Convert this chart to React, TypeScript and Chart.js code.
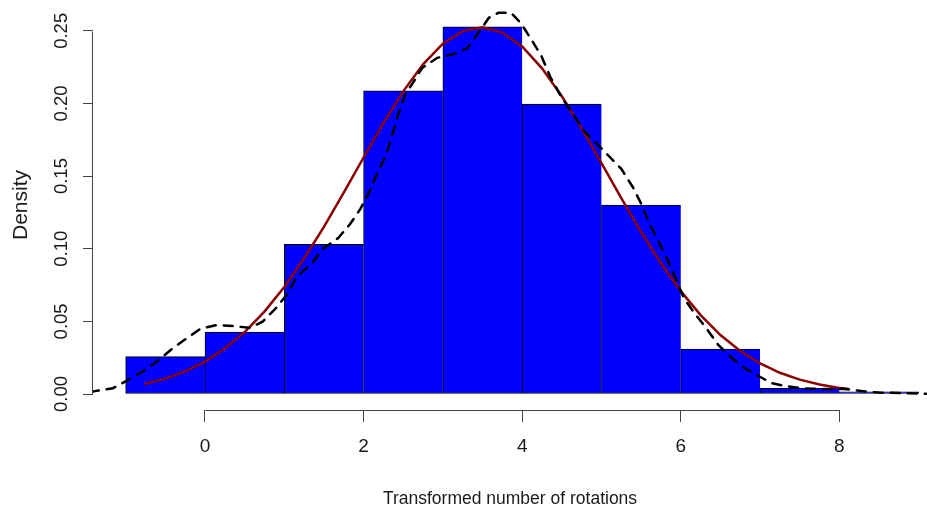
import { useEffect, useRef } from "react";
import { Chart, registerables } from "chart.js";

Chart.register(...registerables);

// Histogram bins (left edges, width 1) and densities
const binStarts = [-1, 0, 1, 2, 3, 4, 5, 6, 7, 8];
const binDensity = [0.0257, 0.0427, 0.103, 0.2087, 0.2528, 0.1996, 0.13, 0.031, 0.004, 0.0015];

// Fitted normal curve (dark red)
const normalX = [-0.77, -0.5, -0.25, 0, 0.25, 0.5, 0.75, 1, 1.25, 1.5, 1.75, 2, 2.25, 2.5, 2.75, 3, 3.25, 3.5, 3.75, 4, 4.25, 4.5, 4.75, 5, 5.25, 5.5, 5.75, 6, 6.25, 6.5, 6.75, 7, 7.25, 7.5, 7.75, 8, 8.12];
const normalY = [0.0068, 0.0106, 0.0156, 0.0223, 0.0313, 0.0426, 0.0567, 0.0737, 0.0933, 0.1151, 0.1387, 0.1628, 0.1865, 0.2083, 0.2269, 0.2411, 0.2498, 0.2525, 0.2488, 0.2392, 0.2242, 0.205, 0.1828, 0.159, 0.1348, 0.1115, 0.09, 0.0708, 0.0543, 0.0406, 0.0296, 0.0211, 0.0146, 0.0099, 0.0065, 0.0042, 0.0034];

// Kernel density estimate (black dashed)
const kdeX = [-1.45, -1.39, -1.16, -0.99, -0.8, -0.59, -0.44, -0.28, -0.06, 0.15, 0.35, 0.57, 0.73, 0.885, 1.04, 1.16, 1.35, 1.49, 1.68, 1.83, 1.96, 2.06, 2.17, 2.28, 2.36, 2.44, 2.53, 2.62, 2.74, 2.93, 3.14, 3.31, 3.48, 3.58, 3.7, 3.86, 3.98, 4.11, 4.24, 4.36, 4.5, 4.65, 4.78, 4.93, 5.09, 5.25, 5.4, 5.5, 5.6, 5.73, 5.84, 5.94, 6.04, 6.17, 6.32, 6.47, 6.64, 6.8, 6.98, 7.14, 7.31, 7.52, 7.77, 8.07, 8.28, 8.5, 9.0, 9.15];
const kdeY = [0.0012, 0.002, 0.004, 0.009, 0.015, 0.023, 0.03, 0.0365, 0.0448, 0.0475, 0.0468, 0.0455, 0.05, 0.0585, 0.0689, 0.081, 0.09, 0.1, 0.1074, 0.117, 0.1274, 0.1377, 0.1515, 0.164, 0.178, 0.193, 0.2066, 0.214, 0.2245, 0.2314, 0.234, 0.238, 0.251, 0.259, 0.2624, 0.2624, 0.2555, 0.2445, 0.233, 0.2176, 0.204, 0.192, 0.181, 0.173, 0.164, 0.155, 0.142, 0.131, 0.118, 0.104, 0.0916, 0.079, 0.066, 0.0558, 0.0455, 0.034, 0.025, 0.018, 0.0124, 0.0076, 0.0055, 0.004, 0.0035, 0.0035, 0.002, 0.001, 0.0003, 0.0002];

const xTickValues = [0, 2, 4, 6, 8];
const yTickValues = [0, 0.05, 0.1, 0.15, 0.2, 0.25];
const xAxisTitle = "Transformed number of rotations";
const yAxisTitle = "Density";

const AXIS_COLOR = "#444";
const TEXT_COLOR = "#1a1a1a";

const rAxesPlugin = {
  id: "rAxes",
  afterDraw(chart: any) {
    const { ctx, scales } = chart;
    const xs = scales.x;
    const ys = scales.y;
    ctx.save();
    ctx.strokeStyle = AXIS_COLOR;
    ctx.lineWidth = 1;
    ctx.beginPath();
    const yLineX = Math.round(ys.right) - 0.5;
    const yTop = Math.round(ys.getPixelForValue(yTickValues[yTickValues.length - 1])) + 0.5;
    const yBot = Math.round(ys.getPixelForValue(yTickValues[0])) + 0.5;
    ctx.moveTo(yLineX, yTop);
    ctx.lineTo(yLineX, yBot);
    const xLineY = Math.round(xs.top) + 0.5;
    const xL = Math.round(xs.getPixelForValue(xTickValues[0])) + 0.5;
    const xR = Math.round(xs.getPixelForValue(xTickValues[xTickValues.length - 1])) + 0.5;
    ctx.moveTo(xL, xLineY);
    ctx.lineTo(xR, xLineY);
    ctx.stroke();
    ctx.restore();
  },
};

export default function App() {
  const canvasRef = useRef<HTMLCanvasElement | null>(null);

  useEffect(() => {
    const canvas = canvasRef.current;
    if (!canvas) return;
    const barData = binStarts.map((s, i) => ({ x: s + 0.5, y: binDensity[i] }));
    const normalData = normalX.map((x, i) => ({ x, y: normalY[i] }));
    const kdeData = kdeX.map((x, i) => ({ x, y: kdeY[i] }));
    const lastBar = binStarts.length - 1;

    const chart = new Chart(canvas, {
      type: "bar",
      data: {
        datasets: [
          {
            type: "line",
            data: kdeData,
            borderColor: "#000000",
            borderWidth: 2.5,
            borderDash: [9, 8],
            borderCapStyle: "round",
            pointRadius: 0,
            tension: 0,
            fill: false,
            order: 0,
          } as any,
          {
            type: "line",
            data: normalData,
            borderColor: "#8B0000",
            borderWidth: 2.5,
            pointRadius: 0,
            tension: 0,
            fill: false,
            order: 1,
          } as any,
          {
            type: "bar",
            data: barData,
            backgroundColor: "#0000FF",
            borderColor: "#000000",
            borderWidth: (c: any) => ({ top: 1, bottom: 1, left: 1, right: c.dataIndex === lastBar ? 1 : 0 }),
            borderSkipped: false,
            barPercentage: 1,
            categoryPercentage: 1,
            order: 2,
          } as any,
        ],
      },
      options: {
        animation: false,
        responsive: true,
        maintainAspectRatio: false,
        layout: { padding: 0 },
        plugins: {
          legend: { display: false },
          tooltip: { enabled: false },
        },
        scales: {
          x: {
            type: "linear",
            offset: false,
            min: -1.412,
            max: 9.105,
            border: { display: false },
            grid: {
              offset: false,
              drawOnChartArea: false,
              drawTicks: true,
              tickLength: 12,
              color: AXIS_COLOR,
              lineWidth: 1,
            },
            afterBuildTicks: (s: any) => {
              s.ticks = xTickValues.map((v) => ({ value: v }));
            },
            afterFit: (s: any) => {
              s.height = 96;
              s.paddingLeft = 0;
              s.paddingRight = 0;
              s.paddingTop = 0;
              s.paddingBottom = 0;
            },
            ticks: {
              autoSkip: false,
              maxRotation: 0,
              minRotation: 0,
              padding: 13,
              color: TEXT_COLOR,
              font: { family: "'Liberation Sans', Arial, sans-serif", size: 19 },
              callback: (v: any) => String(v),
            },
            title: {
              display: true,
              text: xAxisTitle,
              color: TEXT_COLOR,
              font: { family: "'Liberation Sans', Arial, sans-serif", size: 17.5, lineHeight: 0.8 },
              padding: { top: 0, bottom: 0 },
            },
          },
          y: {
            type: "linear",
            min: -0.011,
            max: 0.2712,
            border: { display: false },
            grid: {
              offset: false,
              drawOnChartArea: false,
              drawTicks: true,
              tickLength: 10,
              color: AXIS_COLOR,
              lineWidth: 1,
            },
            afterBuildTicks: (s: any) => {
              s.ticks = yTickValues.map((v) => ({ value: v }));
            },
            afterFit: (s: any) => {
              s.width = 93;
              s.paddingLeft = 0;
              s.paddingRight = 0;
              s.paddingTop = 0;
              s.paddingBottom = 0;
            },
            ticks: {
              autoSkip: false,
              minRotation: 90,
              maxRotation: 90,
              crossAlign: "center",
              padding: 3,
              color: TEXT_COLOR,
              font: { family: "'Liberation Sans', Arial, sans-serif", size: 18.5 },
              callback: (v: any) => Number(v).toFixed(2),
            },
            title: {
              display: true,
              text: yAxisTitle,
              color: TEXT_COLOR,
              font: { family: "'Liberation Sans', Arial, sans-serif", size: 21 },
              padding: { top: 9, bottom: 0 },
            },
          },
        },
      },
      plugins: [rAxesPlugin],
    });

    return () => {
      chart.destroy();
    };
  }, []);

  return (
    <div style={{ position: "absolute", left: 0, top: 0, width: 927, height: 506, background: "#ffffff" }}>
      <canvas ref={canvasRef} />
    </div>
  );
}
